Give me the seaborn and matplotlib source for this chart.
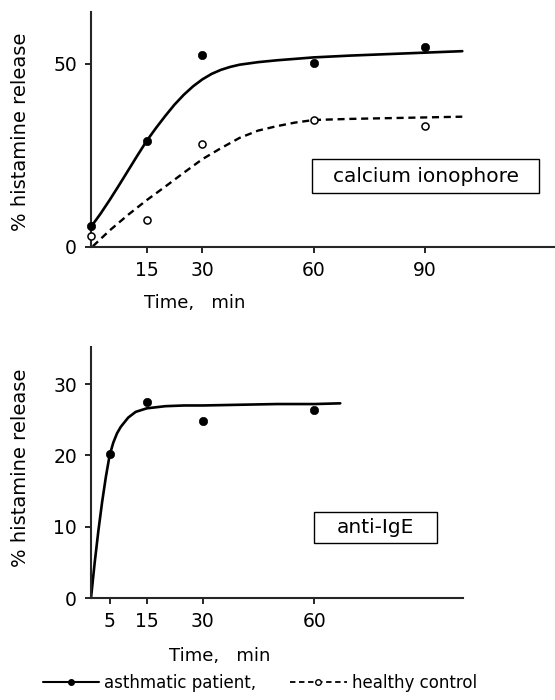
import matplotlib
matplotlib.use("Agg")
import matplotlib.pyplot as plt
from matplotlib.lines import Line2D
from matplotlib.patches import Rectangle
import seaborn as sns

# calcium ionophore: measured points
ca_time = [0, 15, 30, 60, 90]
ca_asthma = [5.8, 29.0, 52.5, 50.2, 54.7]
ca_healthy = [2.9, 7.5, 28.2, 34.7, 33.0]

# calcium ionophore: fitted curves
ca_fit_time = [0, 2.5, 5, 7.5, 10, 12.5, 15, 17.5, 20, 22.5, 25, 27.5, 30, 32.5,
               35, 37.5, 40, 45, 50, 60, 70, 80, 90, 100]
ca_fit_asthma = [5.5, 9.0, 12.8, 16.8, 20.9, 25.0, 29.0, 32.5, 35.8, 38.9, 41.6, 43.9,
                 45.8, 47.3, 48.4, 49.2, 49.8, 50.5, 51.0, 51.8, 52.3, 52.7, 53.1, 53.5]
ca_fit_time_h = [0.5, 5, 10, 15, 20, 25, 30, 35, 40, 45, 50, 55, 60, 70, 80, 90, 100]
ca_fit_healthy = [0.2, 4.5, 8.8, 12.8, 16.5, 20.3, 24.0, 27.0, 29.8, 31.8, 33.0, 34.0,
                  34.7, 35.0, 35.2, 35.4, 35.6]

# anti-IgE: measured points and fitted curve
ige_time = [5, 15, 30, 60]
ige_asthma = [20.2, 27.5, 24.8, 26.3]
ige_fit_time = [0, 0.5, 1, 2, 3, 4, 5, 6, 7, 8, 10, 12, 15, 20, 25, 30, 40, 50, 60, 67]
ige_fit_asthma = [0, 2.5, 5.0, 9.5, 13.5, 17.0, 20.0, 21.8, 23.1, 24.0, 25.3, 26.1,
                  26.6, 26.9, 27.0, 27.0, 27.1, 27.2, 27.2, 27.3]

sns.set_style("ticks")
plt.rcParams['font.family'] = ['DejaVu Sans']
plt.rcParams['axes.linewidth'] = 1.5
plt.rcParams['text.color'] = 'black'
plt.rcParams['axes.labelcolor'] = 'black'

fig = plt.figure(figsize=(5.55, 7.0), dpi=100)
ax1 = fig.add_axes([91 / 555, 1 - 247 / 700, 463 / 555, 235 / 700])
ax2 = fig.add_axes([91 / 555, 1 - 598 / 700, 372 / 555, 251 / 700])

sns.lineplot(x=ca_fit_time, y=ca_fit_asthma, ax=ax1, color='black', lw=1.9)
sns.lineplot(x=ca_fit_time_h, y=ca_fit_healthy, ax=ax1, color='black', lw=1.7,
             linestyle=(0, (3, 2)))
sns.scatterplot(x=ca_time, y=ca_asthma, ax=ax1, color='black', edgecolor='black',
                s=36, zorder=3, clip_on=False)
sns.scatterplot(x=ca_time, y=ca_healthy, ax=ax1, color='white', edgecolor='black',
                linewidth=1.1, s=26, zorder=3, clip_on=False)

sns.lineplot(x=ige_fit_time, y=ige_fit_asthma, ax=ax2, color='black', lw=1.9)
sns.scatterplot(x=ige_time, y=ige_asthma, ax=ax2, color='black', edgecolor='black',
                s=36, zorder=3, clip_on=False)

ax1.set_xlim(0, 124.7)
ax1.set_ylim(0, 64.2)
ax1.set_xticks([15, 30, 60, 90])
ax1.set_yticks([0, 50])
ax2.set_xlim(0, 100)
ax2.set_ylim(0, 35.2)
ax2.set_xticks([5, 15, 30, 60])
ax2.set_yticks([0, 10, 20, 30])

for ax in (ax1, ax2):
    sns.despine(ax=ax)
    ax.tick_params(direction='out', length=4, width=1.2, pad=6, labelsize=13.5,
                   colors='black')
    ax.set_xlabel("Time,   min", fontsize=13)
    ax.set_ylabel("% histamine release", fontsize=14)

ax1.xaxis.set_label_coords(0.224, -0.20)
ax1.yaxis.set_label_coords(-0.131, 0.49)
ax2.xaxis.set_label_coords(0.347, -0.195)
ax2.yaxis.set_label_coords(-0.164, 0.52)

ax1.add_patch(Rectangle((0.478, 0.230), 0.490, 0.144, transform=ax1.transAxes,
                        fill=False, ec='black', lw=1.0))
ax1.text(0.723, 0.302, "calcium ionophore", transform=ax1.transAxes,
         ha='center', va='center', fontsize=14.5)
ax2.add_patch(Rectangle((0.599, 0.219), 0.330, 0.125, transform=ax2.transAxes,
                        fill=False, ec='black', lw=1.0))
ax2.text(0.764, 0.281, "anti-IgE", transform=ax2.transAxes,
         ha='center', va='center', fontsize=14.5)

handles = [
    Line2D([], [], color='black', lw=1.5, marker='o', markersize=4,
           markerfacecolor='black'),
    Line2D([], [], color='black', lw=1.3, linestyle=(0, (3, 2)), marker='o',
           markersize=4, markerfacecolor='white'),
]
fig.legend(handles, ["asthmatic patient,", "healthy control"], loc='center',
           bbox_to_anchor=(0.468, 0.024), ncol=2, frameon=False, fontsize=12,
           handlelength=3.4, handletextpad=0.3, columnspacing=2.0)

fig.savefig("out.png", dpi=100)
